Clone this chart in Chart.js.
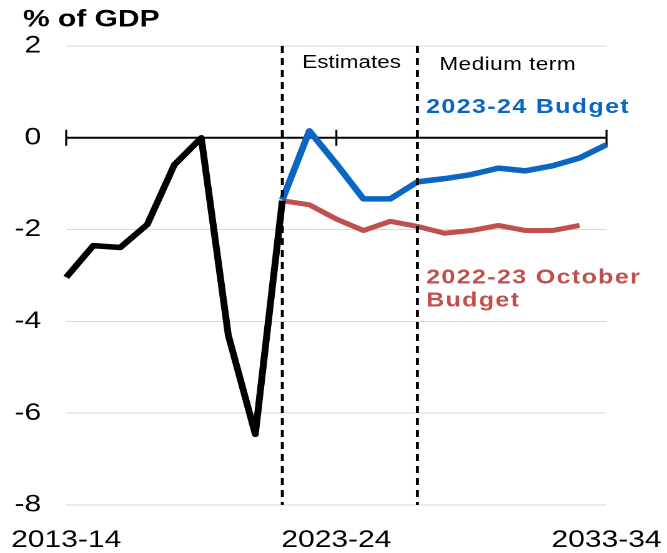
<!DOCTYPE html>
<html>
<head>
<meta charset="utf-8">
<script src="https://cdn.jsdelivr.net/npm/chart.js@4.4.0/dist/chart.umd.min.js"></script>
<style>
  html, body { margin: 0; padding: 0; background: #fff; overflow: hidden; }
  /* the original is stretched sideways, so draw narrow and widen it */
  #wrap { width: 534px; height: 553px; transform: scaleX(1.249); transform-origin: 0 0; }
</style>
</head>
<body>
<div id="wrap"><canvas id="deficitChart" width="534" height="553"></canvas></div>
<script>
const years = ["2013-14", "2014-15", "2015-16", "2016-17", "2017-18", "2018-19", "2019-20",
  "2020-21", "2021-22", "2022-23", "2023-24", "2024-25", "2025-26", "2026-27", "2027-28",
  "2028-29", "2029-30", "2030-31", "2031-32", "2032-33", "2033-34"];
const actuals = [-3.04, -2.35, -2.39, -1.89, -0.59, 0, -4.3, -6.46, -1.37,
  null, null, null, null, null, null, null, null, null, null, null, null];
const budget2324 = [null, null, null, null, null, null, null, null,
  -1.35, 0.15, -0.57, -1.33, -1.33, -0.96, -0.89, -0.80, -0.66, -0.72, -0.61, -0.44, -0.15];
const october2223 = [null, null, null, null, null, null, null, null,
  -1.37, -1.46, -1.77, -2.02, -1.82, -1.93, -2.08, -2.02, -1.91, -2.02, -2.02, -1.91, null];
const labelEvery = 10;
const estimatesStart = 8;
const mediumStart = 13;

const FONT = "'Liberation Sans', Arial, sans-serif";

const extras = {
  id: "extras",
  beforeDatasetsDraw(chart) {
    const { ctx, chartArea, scales: { x, y } } = chart;
    const y0 = y.getPixelForValue(0);
    ctx.save();
    ctx.strokeStyle = "#000";
    ctx.lineWidth = 2;
    ctx.beginPath();
    ctx.moveTo(chartArea.left, y0);
    ctx.lineTo(chartArea.right, y0);
    ctx.stroke();
    ctx.lineWidth = 1.6;
    for (let i = 0; i < years.length; i += labelEvery) {
      const px = x.getPixelForValue(i);
      ctx.beginPath();
      ctx.moveTo(px, y0 - 8);
      ctx.lineTo(px, y0 + 8);
      ctx.stroke();
    }
    ctx.restore();
  },
  afterDatasetsDraw(chart) {
    const { ctx, chartArea, scales: { x } } = chart;
    ctx.save();
    ctx.strokeStyle = "#000";
    ctx.lineWidth = 2.4;
    ctx.setLineDash([7, 5]);
    [estimatesStart, mediumStart].forEach(i => {
      const px = x.getPixelForValue(i);
      ctx.beginPath();
      ctx.moveTo(px, chartArea.top);
      ctx.lineTo(px, chartArea.bottom);
      ctx.stroke();
    });
    ctx.restore();
  },
  afterDraw(chart) {
    const { ctx, scales: { x } } = chart;
    const xe = x.getPixelForValue(estimatesStart);
    const xm = x.getPixelForValue(mediumStart);
    ctx.save();
    ctx.textAlign = "left";
    ctx.textBaseline = "alphabetic";

    ctx.fillStyle = "#000";
    ctx.font = "bold 24px " + FONT;
    ctx.fillText("% of GDP", 18.4, 26.7);

    ctx.font = "18px " + FONT;
    ctx.fillText("Estimates", xe + 16, 68);
    ctx.letterSpacing = "0.4px";
    ctx.fillText("Medium term", xm + 17.6, 70);

    ctx.font = "bold 20px " + FONT;
    ctx.letterSpacing = "1.1px";
    ctx.fillStyle = "#0a66c2";
    ctx.fillText("2023-24 Budget", xm + 7, 113);
    ctx.fillStyle = "#c0504d";
    ctx.fillText("2022-23 October", xm + 7, 283.3);
    ctx.fillText("Budget", xm + 7, 306.7);
    ctx.restore();
  }
};

new Chart(document.getElementById("deficitChart"), {
  type: "line",
  data: {
    labels: years,
    datasets: [{
      label: "Actual",
      data: actuals,
      borderColor: "#000",
      borderWidth: 5.5
    }, {
      label: "2023-24 Budget",
      data: budget2324,
      borderColor: "#0a66c2",
      borderWidth: 5.5
    }, {
      label: "2022-23 October Budget",
      data: october2223,
      borderColor: "#c0504d",
      borderWidth: 5
    }]
  },
  options: {
    responsive: false,
    animation: false,
    devicePixelRatio: 2,
    spanGaps: false,
    elements: {
      point: { radius: 0 },
      line: { tension: 0, borderJoinStyle: "round", fill: false }
    },
    layout: { padding: { top: 46, right: 48.4, bottom: 0, left: 0 } },
    plugins: {
      legend: { display: false },
      tooltip: { enabled: false }
    },
    scales: {
      x: {
        offset: false,
        grid: { display: false, drawTicks: false },
        border: { display: false },
        ticks: {
          autoSkip: false,
          maxRotation: 0,
          padding: 21,
          color: "#000",
          font: { family: FONT, size: 24 },
          callback: (v, i) => (i % labelEvery === 0 ? years[i] : "")
        },
        afterFit(scale) {
          scale.height = 48;
          scale.paddingLeft = 0;
          scale.paddingRight = 0;
        }
      },
      y: {
        min: -8,
        max: 2,
        grid: {
          drawTicks: false,
          color: c => (c.tick && c.tick.value === 0 ? "rgba(0,0,0,0)" : "#d9d9d9"),
          lineWidth: 1
        },
        border: { display: false },
        ticks: {
          stepSize: 2,
          padding: 20,
          color: "#000",
          font: { family: FONT, size: 24 }
        },
        afterFit(scale) { scale.width = 53; }
      }
    }
  },
  plugins: [extras]
});
</script>
</body>
</html>
